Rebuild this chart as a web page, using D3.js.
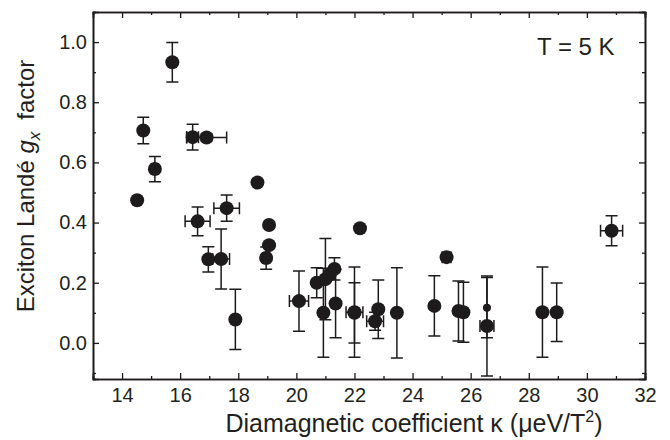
<!DOCTYPE html>
<html>
<head>
<meta charset="utf-8">
<script src="https://cdn.jsdelivr.net/npm/d3@7"></script>
<style>
  body { margin: 0; background: #fff; }
  text { font-family: "Liberation Sans", Arial, sans-serif; fill: #231f20; }
</style>
</head>
<body>
<div id="chart"></div>
<script>
(function () {

  // diamagnetic coefficient kappa (ueV/T^2)
  var kappa = [14.52, 14.73, 15.13, 15.73, 16.43, 16.91, 16.60, 17.60, 16.97, 17.41,
               17.90, 18.66, 19.06, 19.06, 18.96, 20.09, 20.70, 20.93, 21.00, 21.15,
               21.31, 21.35, 22.19, 22.00, 22.00, 22.71, 22.82, 23.46, 24.75, 25.17,
               25.58, 25.75, 26.56, 26.56, 28.47, 28.96, 30.85]
  // exciton Lande g factor
  var gx = [0.474, 0.706, 0.578, 0.933, 0.684, 0.683, 0.404, 0.448, 0.278, 0.279,
            0.078, 0.533, 0.392, 0.325, 0.282, 0.139, 0.200, 0.100, 0.212, 0.228,
            0.246, 0.131, 0.381, 0.102, 0.100, 0.072, 0.112, 0.100, 0.123, 0.285,
            0.106, 0.102, 0.117, 0.056, 0.102, 0.102, 0.373]
  // error bars
  var gErr = [0, 0.044, 0.042, 0.066, 0.043, 0.012, 0.048, 0.044, 0.042, 0.10,
              0.10, 0, 0, 0, 0.037, 0.10, 0.05, 0.148, 0.135, 0,
              0.037, 0.114, 0, 0.15, 0.10, 0.03, 0.097, 0.15, 0.10, 0,
              0.10, 0.10, 0.10, 0.166, 0.15, 0.097, 0.05]
  var kErr = [0, 0, 0.12, 0, 0.2, 0.69, 0.43, 0.44, 0, 0.29,
              0, 0, 0, 0, 0.12, 0.33, 0, 0, 0, 0,
              0, 0, 0, 0.29, 0, 0.29, 0, 0, 0, 0.15,
              0, 0, 0, 0.24, 0, 0, 0.38]
  var smallMarker = [32]

  var xTicks = [14, 16, 18, 20, 22, 24, 26, 28, 30, 32]
  var yTicks = [0.0, 0.2, 0.4, 0.6, 0.8, 1.0]

  var data = kappa.map(function (k, i) {
    return { k: k, g: gx[i], ge: gErr[i], ke: kErr[i], small: smallMarker.indexOf(i) >= 0 }
  })

  var width = 670
  var height = 440
  var margin = { top: 12, right: 25, bottom: 61, left: 93 }
  var ink = "#1e1b1c"

  var x = d3.scaleLinear().domain([13, 32]).range([margin.left, width - margin.right])
  var y = d3.scaleLinear().domain([-0.12, 1.1]).range([height - margin.bottom, margin.top])

  var svg = d3.select("#chart").append("svg")
    .attr("width", width)
    .attr("height", height)

  // ticks point inward on all four sides
  function minor(step, lo, hi) {
    var out = []
    for (var v = lo; v <= hi + 1e-9; v += step) out.push(+v.toFixed(2))
    return out
  }
  var xMinor = minor(1, 13, 32).filter(function (v) { return xTicks.indexOf(v) < 0 })
  var yMinor = minor(0.1, -0.1, 1.1).filter(function (v) {
    return !yTicks.some(function (t) { return Math.abs(t - v) < 1e-6 })
  })

  var bottom = svg.append("g").attr("transform", "translate(0," + y.range()[0] + ")")
  bottom.call(d3.axisBottom(x).tickValues(xTicks).tickSize(-6).tickPadding(9).tickFormat(d3.format("d")))
  bottom.append("g").call(d3.axisBottom(x).tickValues(xMinor).tickSize(-3).tickFormat(""))

  var top = svg.append("g").attr("transform", "translate(0," + y.range()[1] + ")")
  top.call(d3.axisTop(x).tickValues(xTicks).tickSize(-6).tickFormat(""))
  top.append("g").call(d3.axisTop(x).tickValues(xMinor).tickSize(-3).tickFormat(""))

  var left = svg.append("g").attr("transform", "translate(" + x.range()[0] + ",0)")
  left.call(d3.axisLeft(y).tickValues(yTicks).tickSize(-6).tickPadding(6).tickFormat(d3.format(".1f")))
  left.append("g").call(d3.axisLeft(y).tickValues(yMinor).tickSize(-3).tickFormat(""))

  var right = svg.append("g").attr("transform", "translate(" + x.range()[1] + ",0)")
  right.call(d3.axisRight(y).tickValues(yTicks).tickSize(-6).tickFormat(""))
  right.append("g").call(d3.axisRight(y).tickValues(yMinor).tickSize(-3).tickFormat(""))

  svg.selectAll(".domain").attr("stroke", ink).attr("stroke-width", 1.6)
  svg.selectAll(".tick line").attr("stroke", ink).attr("stroke-width", 1.3)
  svg.selectAll(".tick text")
    .style("font-family", "'Liberation Sans', Arial, sans-serif")
    .style("font-size", "20px")
    .attr("fill", "#231f20")

  // error bars
  var cap = 6
  var bars = svg.append("g")
    .attr("stroke", ink)
    .attr("stroke-width", 1.5)
    .attr("fill", "none")

  bars.selectAll("path.yerr")
    .data(data.filter(function (d) { return d.ge > 0 }))
    .enter().append("path")
      .attr("class", "yerr")
      .attr("d", function (d) {
        var cx = x(d.k), y0 = y(d.g - d.ge), y1 = y(d.g + d.ge)
        return "M" + cx + "," + y0 + "V" + y1 +
          "M" + (cx - cap) + "," + y0 + "H" + (cx + cap) +
          "M" + (cx - cap) + "," + y1 + "H" + (cx + cap)
      })

  bars.selectAll("path.xerr")
    .data(data.filter(function (d) { return d.ke > 0 }))
    .enter().append("path")
      .attr("class", "xerr")
      .attr("d", function (d) {
        var cy = y(d.g), x0 = x(d.k - d.ke), x1 = x(d.k + d.ke)
        return "M" + x0 + "," + cy + "H" + x1 +
          "M" + x0 + "," + (cy - cap) + "V" + (cy + cap) +
          "M" + x1 + "," + (cy - cap) + "V" + (cy + cap)
      })

  // markers
  svg.append("g").selectAll("circle")
    .data(data)
    .enter().append("circle")
      .attr("cx", function (d) { return x(d.k) })
      .attr("cy", function (d) { return y(d.g) })
      .attr("r", function (d) { return d.small ? 4 : 7 })
      .attr("fill", ink)

  // annotation
  svg.append("text")
    .attr("x", 537)
    .attr("y", 55)
    .style("font-size", "24px")
    .text("T = 5 K")

  // axis titles
  var xt = svg.append("text")
    .attr("x", 414)
    .attr("y", 432)
    .attr("text-anchor", "middle")
    .style("font-size", "25px")
  xt.append("tspan").text("Diamagnetic coefficient \u03ba (\u03bceV/T")
  xt.append("tspan").attr("dy", -10).style("font-size", "16px").text("2")
  xt.append("tspan").attr("dy", 10).text(")")

  var yt = svg.append("text")
    .attr("transform", "translate(34,186) rotate(-90)")
    .attr("text-anchor", "middle")
    .style("font-size", "24px")
  yt.append("tspan").text("Exciton Land\u00e9 ")
  yt.append("tspan").style("font-style", "italic").text("g")
  yt.append("tspan").attr("dy", 6).style("font-size", "17px").style("font-style", "italic").text("x")
  yt.append("tspan").attr("dy", -6).attr("dx", 12).text("factor")

})();
</script>
</body>
</html>
